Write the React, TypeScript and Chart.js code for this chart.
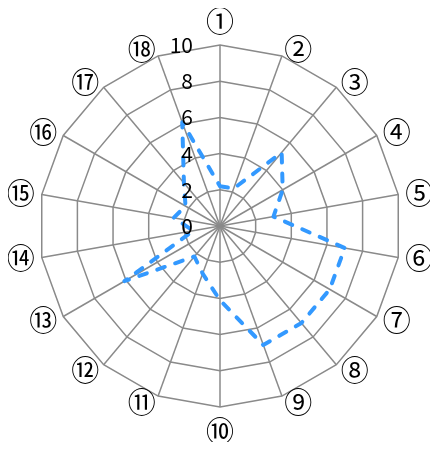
import React, { useEffect, useRef } from "react";
import { Chart, registerables } from "chart.js";

Chart.register(...registerables);

const categories = ["①", "②", "③", "④", "⑤", "⑥", "⑦", "⑧", "⑨", "⑩", "⑪", "⑫", "⑬", "⑭", "⑮", "⑯", "⑰", "⑱"];
const values = [2.2, 2.2, 5.3, 4.0, 3.0, 7.0, 7.0, 7.0, 7.0, 4.1, 2.8, 2.2, 6.1, 1.5, 2.6, 2.2, 3.1, 6.1];
const tickValues = [0, 2, 4, 6, 8, 10];
const tickLabels = ["0", "2", "4", "6", "8", "10"];

const GRID = "#8a8a8a";
const LINE = "#3399ff";
const LABEL_PAD = 7;
const LABEL_HALF = 17;

const labelPlugin = {
  id: "labelPlugin",
  afterDraw(chart: any) {
    const scale = chart.scales.r;
    const ctx = chart.ctx;
    ctx.save();
    // tick labels, right-aligned left of the vertical axis
    ctx.font = '21px "Noto Sans CJK JP", "Noto Sans", sans-serif';
    ctx.fillStyle = "#000";
    ctx.textAlign = "right";
    ctx.textBaseline = "middle";
    tickValues.forEach((v, i) => {
      const d = scale.getDistanceFromCenterForValue(v);
      ctx.fillText(tickLabels[i], scale.xCenter - 27, scale.yCenter - d);
    });
    // point labels
    ctx.font = '28px "Noto Sans CJK JP"';
    const n = categories.length;
    categories.forEach((lab, i) => {
      const p = scale.getPointPosition(i, scale.drawingArea + LABEL_PAD);
      const deg = Math.round((i * 360) / n);
      let align: CanvasTextAlign = "center";
      let y = p.y;
      if (deg === 0) y -= LABEL_HALF;
      else if (deg === 180) y += LABEL_HALF;
      else if (deg < 180) align = "left";
      else align = "right";
      ctx.textAlign = align;
      ctx.textBaseline = "middle";
      ctx.fillText(lab, p.x, y);
    });
    ctx.restore();
  },
};

export default function App() {
  const ref = useRef<HTMLCanvasElement>(null);
  useEffect(() => {
    if (!ref.current) return;
    const chart = new Chart(ref.current, {
      type: "radar",
      data: {
        labels: categories,
        datasets: [
          {
            data: values,
            borderColor: LINE,
            borderWidth: 4,
            borderDash: [8, 11],
            borderCapStyle: "round",
            borderJoinStyle: "round",
            fill: false,
            pointRadius: 0,
            pointHoverRadius: 0,
            tension: 0,
          },
        ],
      },
      options: {
        animation: false,
        responsive: true,
        maintainAspectRatio: false,
        layout: { padding: { left: 30, right: 28, top: 37, bottom: 34 } },
        plugins: { legend: { display: false }, tooltip: { enabled: false } },
        scales: {
          r: {
            min: 0,
            max: 10,
            ticks: { stepSize: 2, display: false },
            grid: { color: GRID, lineWidth: 1.5, circular: false },
            angleLines: { color: GRID, lineWidth: 1.5 },
            pointLabels: { display: false },
          },
        },
      },
      plugins: [labelPlugin],
    });
    return () => chart.destroy();
  }, []);
  return (
    <div style={{ width: 422, height: 434, position: "relative" }}>
      <canvas ref={ref} />
    </div>
  );
}
